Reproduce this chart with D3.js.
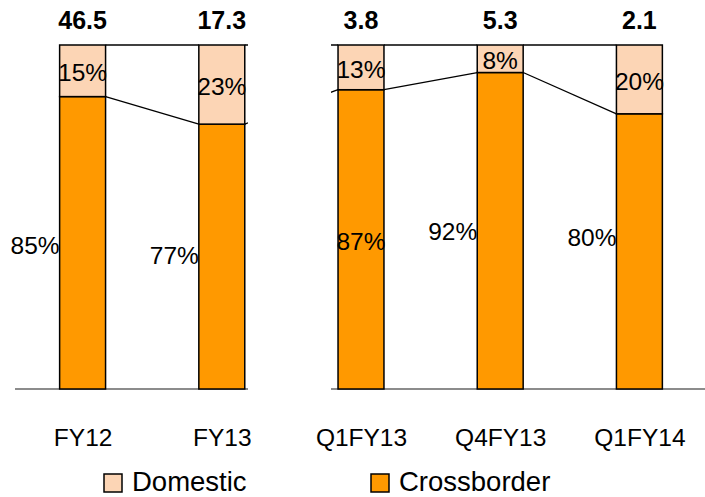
<!DOCTYPE html>
<html>
<head>
<meta charset="utf-8">
<script src="https://cdn.jsdelivr.net/npm/d3@7"></script>
<style>
  html, body { margin: 0; padding: 0; background: #fff; }
  svg { display: block; }
  text { font-family: "Liberation Sans", Arial, sans-serif; fill: #000; }
</style>
</head>
<body>
<div id="chart"></div>
<script>
// Periods shown, total volumes and the domestic / crossborder split (%)
const categories = ["FY12", "FY13", "Q1FY13", "Q4FY13", "Q1FY14"];
const totals = [46.5, 17.3, 3.8, 5.3, 2.1];
const domestic = [15, 23, 13, 8, 20];
const crossborder = [85, 77, 87, 92, 80];
const seriesNames = ["Domestic", "Crossborder"];

// Label layout: crossborder labels sit left of the bar, except where centred
const crossLabelAlign = ["left", "left", "center", "left", "left"];
const crossLabelShift = [3, -1, 2, 1, -14];

const W = 705, H = 497;
const colors = { Domestic: "#FCD5B5", Crossborder: "#FF9900" };

const svg = d3.select("#chart").append("svg")
  .attr("width", W).attr("height", H);

const x = d3.scalePoint().domain(categories).range([13, 709]).padding(0.5);
const barW = x.step() * 0.33;
const y = d3.scaleLinear().domain([0, 100]).range([389, 45]);

// The annual and quarterly groups are separated by a blank gap
const clip = svg.append("defs").append("clipPath").attr("id", "panels");
clip.append("rect").attr("x", 0).attr("y", 0).attr("width", 248).attr("height", H);
clip.append("rect").attr("x", 331).attr("y", 0).attr("width", W - 331).attr("height", H);

const plot = svg.append("g").attr("clip-path", "url(#panels)");

const rows = categories.map((c, i) => ({
  cat: c, i, Domestic: domestic[i], Crossborder: crossborder[i]
}));
const stacked = d3.stack().keys(["Crossborder", "Domestic"])(rows);

// Series lines joining the segment tops of neighbouring bars
const lineLevels = [
  rows.map(r => r.Crossborder),
  rows.map(r => r.Crossborder + r.Domestic)
];
lineLevels.forEach(level => {
  for (let i = 0; i < categories.length - 1; i++) {
    plot.append("line")
      .attr("x1", x(categories[i]) + barW / 2).attr("y1", y(level[i]))
      .attr("x2", x(categories[i + 1]) - barW / 2).attr("y2", y(level[i + 1]))
      .attr("stroke", "#000").attr("stroke-width", 1.3);
  }
});

// Baseline
plot.append("line")
  .attr("x1", 15).attr("x2", W)
  .attr("y1", y(0)).attr("y2", y(0))
  .attr("stroke", "#8c8c8c").attr("stroke-width", 2);

// Stacked bars
stacked.forEach(layer => {
  plot.append("g").selectAll("rect")
    .data(layer)
    .join("rect")
    .attr("x", d => x(d.data.cat) - barW / 2)
    .attr("width", barW)
    .attr("y", d => y(d[1]))
    .attr("height", d => y(d[0]) - y(d[1]))
    .attr("fill", colors[layer.key])
    .attr("stroke", "#000")
    .attr("stroke-width", 1.5);
});

// Domestic share labels, centred in their segment
const fs = 24.5;
svg.append("g").selectAll("text")
  .data(rows)
  .join("text")
  .attr("x", d => x(d.cat))
  .attr("y", d => (y(d.Crossborder) + y(100)) / 2 + 2 + fs * 0.35)
  .attr("text-anchor", "middle")
  .style("font-size", fs + "px")
  .text(d => d.Domestic + "%");

// Crossborder share labels
svg.append("g").selectAll("text")
  .data(rows)
  .join("text")
  .attr("x", d => crossLabelAlign[d.i] === "center" ? x(d.cat) : x(d.cat) - barW / 2)
  .attr("y", d => (y(0) + y(d.Crossborder)) / 2 + crossLabelShift[d.i] + fs * 0.35)
  .attr("text-anchor", d => crossLabelAlign[d.i] === "center" ? "middle" : "end")
  .style("font-size", fs + "px")
  .text(d => d.Crossborder + "%");

// Totals above each bar
svg.append("g").selectAll("text")
  .data(categories)
  .join("text")
  .attr("x", d => x(d))
  .attr("y", 29)
  .attr("text-anchor", "middle")
  .style("font-size", "25px")
  .style("font-weight", "bold")
  .text((d, i) => totals[i].toFixed(1));

// Category axis labels
const axis = d3.axisBottom(x).tickSize(0).tickPadding(0);
const ax = svg.append("g").attr("transform", `translate(0, 446)`).call(axis);
ax.select(".domain").remove();
ax.selectAll("text")
  .attr("dy", 0)
  .attr("y", 0)
  .style("font-size", fs + "px")
  .style("font-family", "'Liberation Sans', Arial, sans-serif")
  .attr("fill", "#000");

// Legend
const legendX = [104, 371];
const lg = svg.append("g").selectAll("g")
  .data(seriesNames)
  .join("g")
  .attr("transform", (d, i) => `translate(${legendX[i]}, 474)`);
lg.append("rect")
  .attr("width", 18).attr("height", 18)
  .attr("fill", d => colors[d])
  .attr("stroke", "#000").attr("stroke-width", 1.5);
lg.append("text")
  .attr("x", 28).attr("y", 17)
  .style("font-size", "27.5px")
  .text(d => d);
</script>
</body>
</html>
